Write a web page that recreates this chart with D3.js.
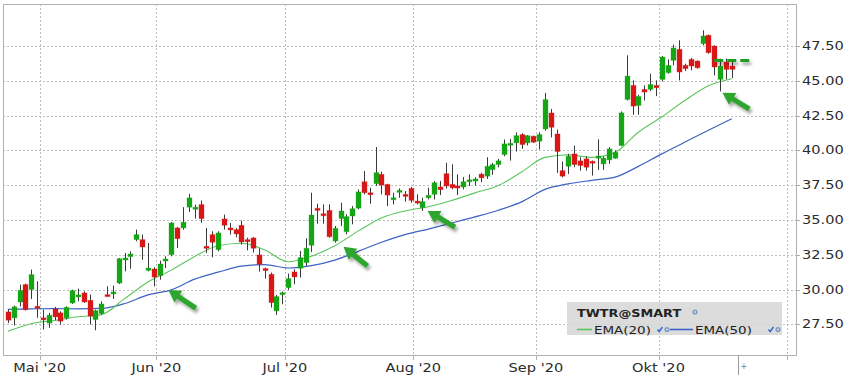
<!DOCTYPE html>
<html>
<head>
<meta charset="utf-8">
<script src="https://cdn.jsdelivr.net/npm/d3@7"></script>
<style>
html, body { margin: 0; padding: 0; background: #fff; }
svg { display: block; font-family: "DejaVu Sans", Verdana, sans-serif; }
</style>
</head>
<body>
<div id="chart"></div>
<script>
// trading days shown (Apr 24 - Oct 20 2020)
var dates = [
    "2020-04-24","2020-04-27","2020-04-28","2020-04-29","2020-04-30",
    "2020-05-01","2020-05-04","2020-05-05","2020-05-06","2020-05-07","2020-05-08","2020-05-11","2020-05-12","2020-05-13","2020-05-14",
    "2020-05-15","2020-05-18","2020-05-19","2020-05-20","2020-05-21","2020-05-22","2020-05-26","2020-05-27","2020-05-28","2020-05-29",
    "2020-06-01","2020-06-02","2020-06-03","2020-06-04","2020-06-05","2020-06-08","2020-06-09","2020-06-10","2020-06-11","2020-06-12",
    "2020-06-15","2020-06-16","2020-06-17","2020-06-18","2020-06-19","2020-06-22","2020-06-23","2020-06-24","2020-06-25","2020-06-26",
    "2020-06-29","2020-06-30",
    "2020-07-01","2020-07-02","2020-07-06","2020-07-07","2020-07-08","2020-07-09","2020-07-10","2020-07-13","2020-07-14","2020-07-15",
    "2020-07-16","2020-07-17","2020-07-20","2020-07-21","2020-07-22","2020-07-23","2020-07-24","2020-07-27","2020-07-28","2020-07-29",
    "2020-07-30","2020-07-31",
    "2020-08-03","2020-08-04","2020-08-05","2020-08-06","2020-08-07","2020-08-10","2020-08-11","2020-08-12","2020-08-13","2020-08-14",
    "2020-08-17","2020-08-18","2020-08-19","2020-08-20","2020-08-21","2020-08-24","2020-08-25","2020-08-26","2020-08-27","2020-08-28",
    "2020-08-31",
    "2020-09-01","2020-09-02","2020-09-03","2020-09-04","2020-09-08","2020-09-09","2020-09-10","2020-09-11","2020-09-14","2020-09-15",
    "2020-09-16","2020-09-17","2020-09-18","2020-09-21","2020-09-22","2020-09-23","2020-09-24","2020-09-25","2020-09-28","2020-09-29",
    "2020-09-30",
    "2020-10-01","2020-10-02","2020-10-05","2020-10-06","2020-10-07","2020-10-08","2020-10-09","2020-10-12","2020-10-13","2020-10-14",
    "2020-10-15","2020-10-16","2020-10-19","2020-10-20"
];

var open = [
    28.40,27.97,29.11,30.36,30.00,28.80,27.97,27.60,28.61,28.33,27.97,29.04,29.52,29.76,29.23,27.85,28.28,29.64,29.71,30.47,
    32.13,32.37,33.59,33.59,31.38,31.48,31.00,32.10,32.51,34.43,34.43,35.92,35.77,36.11,33.11,33.95,32.87,35.08,34.43,34.31,
    34.62,33.59,33.71,32.49,31.51,31.10,28.47,29.67,30.14,31.27,31.53,31.94,33.18,35.84,35.45,35.69,33.49,35.10,34.16,35.29,
    35.85,37.75,36.96,37.61,38.28,37.56,36.46,36.99,36.84,37.27,36.36,35.89,36.60,36.84,37.37,38.33,37.56,37.44,37.37,37.75,
    37.83,38.29,38.15,38.62,38.98,39.70,40.39,40.54,41.14,40.54,41.02,40.66,41.54,42.69,41.18,38.55,38.86,39.75,39.25,39.39,
    39.22,39.44,39.03,39.32,39.44,40.35,43.66,44.67,43.23,44.38,44.38,44.67,45.10,45.58,46.47,47.26,46.11,46.54,46.42,47.67,
    48.27,47.50,45.10,46.35,46.06
];
var high = [
    28.56,28.85,30.36,30.43,31.44,30.60,28.56,28.33,28.76,28.44,28.80,30.00,30.07,29.88,29.64,28.56,29.16,30.24,30.29,32.27,
    32.63,32.75,34.31,33.95,33.35,31.60,32.08,32.39,34.86,34.50,35.92,36.88,36.11,36.40,34.43,34.19,34.19,35.39,34.79,34.43,
    34.96,33.73,33.78,32.97,31.58,31.22,29.62,29.86,31.15,31.46,32.78,33.68,36.96,36.17,36.12,36.12,34.57,36.24,35.41,36.00,
    37.20,38.52,37.32,40.24,38.47,37.60,36.96,37.27,37.08,37.37,36.84,36.60,37.32,37.80,37.80,39.11,39.00,38.28,38.09,38.28,
    38.07,38.39,39.51,39.10,39.39,40.78,40.83,41.30,41.23,41.11,41.06,41.30,44.13,42.98,41.50,39.20,39.75,40.35,39.51,39.58,
    39.27,40.80,39.56,40.23,39.99,42.80,46.83,45.03,44.00,44.67,45.51,45.03,46.78,46.54,47.60,47.91,46.23,46.64,46.47,48.63,
    48.32,47.55,46.59,46.59,46.40
];
var low = [
    27.60,27.42,28.80,28.49,29.33,27.97,27.13,27.25,27.80,27.49,27.85,28.97,29.16,29.04,27.49,27.08,28.20,29.52,29.33,30.40,
    31.31,31.50,33.47,32.15,31.31,30.23,30.71,31.55,32.39,32.99,34.30,35.58,35.10,34.79,32.63,32.32,32.75,34.31,33.95,33.76,
    33.23,32.82,32.66,31.29,30.79,28.71,28.18,28.95,29.98,30.38,30.86,31.70,32.70,34.74,34.74,33.73,33.37,34.57,33.97,34.69,
    35.77,36.84,36.17,37.44,36.84,36.00,36.12,36.60,36.32,36.24,36.12,35.65,36.48,36.48,36.79,37.27,37.20,36.79,37.20,37.44,
    37.48,37.72,37.95,38.24,38.79,39.58,39.27,39.92,40.11,40.35,40.54,40.06,41.42,40.94,38.39,38.07,38.31,38.79,38.55,38.55,
    38.19,38.60,38.60,39.03,39.40,40.30,43.59,42.56,42.56,43.59,44.26,43.90,44.96,45.51,46.11,45.03,45.70,45.75,45.87,47.55,
    46.95,45.39,44.24,45.10,45.20
];
var close = [
    27.80,28.76,29.95,28.56,31.08,28.68,27.90,28.16,28.04,27.73,28.73,29.93,29.62,29.11,28.09,28.49,28.97,29.57,29.83,32.22,
    32.27,32.56,33.95,33.06,31.55,30.90,31.84,32.20,34.79,33.66,34.84,36.59,35.92,35.10,32.99,33.40,34.07,34.62,34.29,34.00,
    33.42,33.47,32.97,31.82,31.39,29.07,29.50,29.78,30.79,30.91,32.30,32.97,35.36,35.69,35.33,33.80,34.40,35.65,35.24,35.81,
    37.02,36.96,36.87,38.40,37.51,36.79,36.60,37.13,36.72,36.41,36.27,36.32,36.77,37.68,37.18,37.44,37.32,37.32,37.75,37.89,
    37.95,38.03,38.86,38.98,39.25,40.47,40.51,41.06,40.42,41.06,40.59,41.14,43.65,41.66,39.92,38.15,39.58,38.98,38.91,38.79,
    39.10,39.59,39.44,40.11,39.87,42.70,45.34,43.18,43.88,44.19,44.74,44.50,46.71,46.11,47.36,45.63,45.87,46.06,45.94,48.22,
    47.02,45.99,46.06,45.82,45.82
];

// moving averages, every 4th trading day
var emaIdx = [0,4,8,12,16,20,24,28,32,36,40,44,48,52,56,60,64,68,72,76,80,84,88,92,96,100,104,108,112,116,120,124];
var ema20 = [27.00,27.55,27.78,28.05,28.20,29.35,30.55,31.40,32.38,33.15,33.33,32.85,32.00,32.40,33.15,34.20,
             35.15,35.65,35.95,36.40,36.95,37.48,38.45,39.50,39.68,39.50,39.85,41.30,42.40,43.60,44.65,45.15];
var ema50 = [28.58,28.62,28.63,28.62,28.65,29.00,29.62,29.98,30.75,31.25,31.68,31.80,31.55,31.72,32.12,32.75,
             33.40,33.95,34.35,34.78,35.22,35.70,36.30,37.20,37.60,37.85,38.08,38.85,39.75,40.60,41.45,42.27];

var yTicks = [27.5, 30, 32.5, 35, 37.5, 40, 42.5, 45, 47.5];
var monthNames = ["Jan", "Feb", "Mär", "Apr", "Mai", "Jun", "Jul", "Aug", "Sep", "Okt", "Nov", "Dez"];
var futureMonthStarts = [133]; // Nov 2, beyond the last bar
var nextSlot = 125;

var symbol = "TWTR@SMART";
var legendNames = ["EMA(20)", "EMA(50)"];

// alert line and the hand drawn arrows: [tip index, tip price, tail index, tail price]
var alertPrice = 46.45, alertFrom = 121, alertTo = 127;
var arrows = [
    [27.5, 29.97, 32.2, 28.66],
    [57.5, 33.07, 61.6, 31.70],
    [71.9, 35.65, 76.6, 34.48],
    [122.4, 44.15, 127.0, 42.97]
];

var W = 855, H = 389;
var stretch = 1.28;
var upColor = "#14a614", downColor = "#d91717", wickColor = "#3a3a3a";
var ema20Color = "#5cc65c", ema50Color = "#3d62c4", arrowColor = "#2ea52e";
var gridColor = "#bdbdbd", frameColor = "#b0b0b0", textColor = "#2b2b2b";

var plot = { left: 3, top: 4, right: 796, bottom: 355 };

var x = d3.scaleLinear().domain([-1, 135]).range([2, 796]);
var y = d3.scaleLinear().domain([27.5, 47.5]).range([324.4, 46]);

var svg = d3.select("#chart").append("svg")
    .attr("width", W)
    .attr("height", H);

var defs = svg.append("defs");
var shadow = defs.append("filter").attr("id", "shadow")
    .attr("filterUnits", "userSpaceOnUse")
    .attr("x", 0).attr("y", 0).attr("width", W).attr("height", H);
shadow.append("feDropShadow")
    .attr("dx", 2).attr("dy", 3).attr("stdDeviation", 1.6)
    .attr("flood-color", "#000").attr("flood-opacity", 0.35);

// stretch text horizontally like the original (wide font)
function wideText(sel, anchor) {
    sel.each(function () {
        var t = d3.select(this);
        var w = this.getComputedTextLength();
        var nw = w * stretch;
        t.attr("textLength", nw).attr("lengthAdjust", "spacingAndGlyphs");
        if (anchor === "middle") {
            t.attr("x", +t.attr("x") - nw / 2);
        }
    });
}

// month starts
var monthStarts = [];
for (var i = 1; i < dates.length; i++) {
    if (dates[i].slice(5, 7) !== dates[i - 1].slice(5, 7)) {
        var m = +dates[i].slice(5, 7) - 1;
        monthStarts.push({ i: i, label: monthNames[m] + " '" + dates[i].slice(2, 4) });
    }
}
futureMonthStarts.forEach(function (i) {
    monthStarts.push({ i: i, label: "" });
});

// gridlines
svg.append("g")
    .selectAll("line")
    .data(yTicks)
    .enter().append("line")
    .attr("x1", plot.left).attr("x2", plot.right)
    .attr("y1", function (d) { return Math.round(y(d)) + 0.5; })
    .attr("y2", function (d) { return Math.round(y(d)) + 0.5; })
    .attr("stroke", gridColor)
    .attr("stroke-dasharray", "2,2");

svg.append("g")
    .selectAll("line")
    .data(monthStarts)
    .enter().append("line")
    .attr("x1", function (d) { return Math.round(x(d.i + 0.45)) + 0.5; })
    .attr("x2", function (d) { return Math.round(x(d.i + 0.45)) + 0.5; })
    .attr("y1", plot.top).attr("y2", plot.bottom)
    .attr("stroke", gridColor)
    .attr("stroke-dasharray", "2,2");

// frame
svg.append("rect")
    .attr("x", plot.left + 0.5).attr("y", plot.top + 0.5)
    .attr("width", plot.right - plot.left).attr("height", plot.bottom - plot.top)
    .attr("fill", "none")
    .attr("stroke", frameColor);

// moving averages
var emaLine = function (vals) {
    return d3.line()
        .x(function (d, k) { return x(emaIdx[k]); })
        .y(function (d) { return y(d); })
        .curve(d3.curveMonotoneX)(vals);
};
svg.append("path")
    .attr("d", emaLine(ema50))
    .attr("fill", "none")
    .attr("stroke", ema50Color)
    .attr("stroke-width", 1.2);
svg.append("path")
    .attr("d", emaLine(ema20))
    .attr("fill", "none")
    .attr("stroke", ema20Color)
    .attr("stroke-width", 1.1);

// candles
var candles = svg.append("g");
dates.forEach(function (d, k) {
    var cx = Math.round(x(k));
    var up = close[k] >= open[k];
    var col = up ? upColor : downColor;
    candles.append("rect")
        .attr("x", cx).attr("width", 1)
        .attr("y", y(high[k]))
        .attr("height", y(low[k]) - y(high[k]))
        .attr("fill", wickColor);
    var top = y(Math.max(open[k], close[k]));
    var h = Math.max(2, Math.abs(y(open[k]) - y(close[k])));
    candles.append("rect")
        .attr("x", cx - 2).attr("width", 5)
        .attr("y", top).attr("height", h)
        .attr("fill", col)
        .attr("stroke", col)
        .attr("stroke-opacity", 0.3)
        .attr("stroke-width", 1);
});

// alert line
svg.append("line")
    .attr("x1", x(alertFrom)).attr("x2", x(alertTo))
    .attr("y1", y(alertPrice)).attr("y2", y(alertPrice))
    .attr("stroke", "#1f9f1f")
    .attr("stroke-width", 3)
    .attr("stroke-dasharray", "9,4")
    .attr("filter", "url(#shadow)");

// arrows
function arrowPath(a) {
    var x1 = x(a[0]), y1 = y(a[1]), x2 = x(a[2]), y2 = y(a[3]);
    var dx = x2 - x1, dy = y2 - y1, L = Math.sqrt(dx * dx + dy * dy);
    var ux = dx / L, uy = dy / L, px = -uy, py = ux;
    var hl = 12, hw = 7, sw = 2.6;
    var bx = x1 + ux * hl, by = y1 + uy * hl;
    var pts = [
        [x1, y1],
        [bx + px * hw, by + py * hw],
        [bx + px * sw, by + py * sw],
        [x2 + px * sw, y2 + py * sw],
        [x2 - px * sw, y2 - py * sw],
        [bx - px * sw, by - py * sw],
        [bx - px * hw, by - py * hw]
    ];
    return "M" + pts.map(function (p) { return p[0] + "," + p[1]; }).join("L") + "Z";
}
svg.append("g")
    .attr("filter", "url(#shadow)")
    .selectAll("path")
    .data(arrows)
    .enter().append("path")
    .attr("d", arrowPath)
    .attr("fill", arrowColor);

// right axis
var yAxis = svg.append("g");
yAxis.selectAll("line")
    .data(yTicks)
    .enter().append("line")
    .attr("x1", plot.right).attr("x2", plot.right + 4)
    .attr("y1", function (d) { return Math.round(y(d)) + 0.5; })
    .attr("y2", function (d) { return Math.round(y(d)) + 0.5; })
    .attr("stroke", frameColor);
yAxis.selectAll("text")
    .data(yTicks)
    .enter().append("text")
    .attr("x", 802)
    .attr("y", function (d) { return y(d) + 4; })
    .attr("fill", textColor)
    .style("font-size", "11.4px")
    .text(function (d) { return d3.format(".2f")(d); })
    .call(wideText, "start");

// bottom axis
var xAxis = svg.append("g");
xAxis.selectAll("line")
    .data(monthStarts)
    .enter().append("line")
    .attr("x1", function (d) { return Math.round(x(d.i + 0.45)) + 0.5; })
    .attr("x2", function (d) { return Math.round(x(d.i + 0.45)) + 0.5; })
    .attr("y1", plot.bottom).attr("y2", plot.bottom + 5)
    .attr("stroke", frameColor);
xAxis.selectAll("text")
    .data(monthStarts.filter(function (d) { return d.label; }))
    .enter().append("text")
    .attr("x", function (d) { return x(d.i + 0.45); })
    .attr("y", 372)
    .attr("fill", textColor)
    .style("font-size", "11.4px")
    .text(function (d) { return d.label; })
    .call(wideText, "middle");

// marker for the next trading day
xAxis.append("line")
    .attr("x1", Math.round(x(nextSlot)) + 0.5).attr("x2", Math.round(x(nextSlot)) + 0.5)
    .attr("y1", plot.bottom).attr("y2", plot.bottom + 20)
    .attr("stroke", "#999");
xAxis.append("text")
    .attr("x", x(nextSlot) + 3).attr("y", 369)
    .attr("fill", "#777")
    .style("font-size", "8px")
    .text("+");

// legend
var lg = svg.append("g");
lg.append("rect")
    .attr("x", 567).attr("y", 302)
    .attr("width", 215).attr("height", 33)
    .attr("fill", "#d6d6d6")
    .attr("fill-opacity", 0.85);
lg.append("text")
    .attr("x", 577).attr("y", 316.5)
    .attr("fill", "#222")
    .style("font-size", "10px")
    .style("font-weight", "bold")
    .text(symbol)
    .call(wideText, "start");

function gear(cx, cy) {
    lg.append("circle")
        .attr("cx", cx).attr("cy", cy).attr("r", 2.6)
        .attr("fill", "#7f9bc6");
    lg.append("circle")
        .attr("cx", cx).attr("cy", cy).attr("r", 1)
        .attr("fill", "#d6e0f0");
}
gear(695, 312);

var legendItems = [
    { name: legendNames[0], color: ema20Color, x0: 577, tx: 594, check: 660, gear: 667 },
    { name: legendNames[1], color: ema50Color, x0: 670, tx: 695, check: 771, gear: 778 }
];
legendItems.forEach(function (it) {
    lg.append("line")
        .attr("x1", it.x0).attr("x2", it.tx - 2)
        .attr("y1", 329.5).attr("y2", 329.5)
        .attr("stroke", it.color)
        .attr("stroke-width", 1.6);
    lg.append("text")
        .attr("x", it.tx).attr("y", 333.5)
        .attr("fill", "#222")
        .style("font-size", "10.5px")
        .text(it.name)
        .call(wideText, "start");
    // small check mark
    lg.append("path")
        .attr("d", "M" + (it.check - 2.5) + ",329.5 L" + (it.check - 0.8) + ",331.5 L" + (it.check + 2.5) + ",327")
        .attr("fill", "none")
        .attr("stroke", "#2f66d6")
        .attr("stroke-width", 1.4);
    gear(it.gear, 329.5);
});
</script>
</body>
</html>
